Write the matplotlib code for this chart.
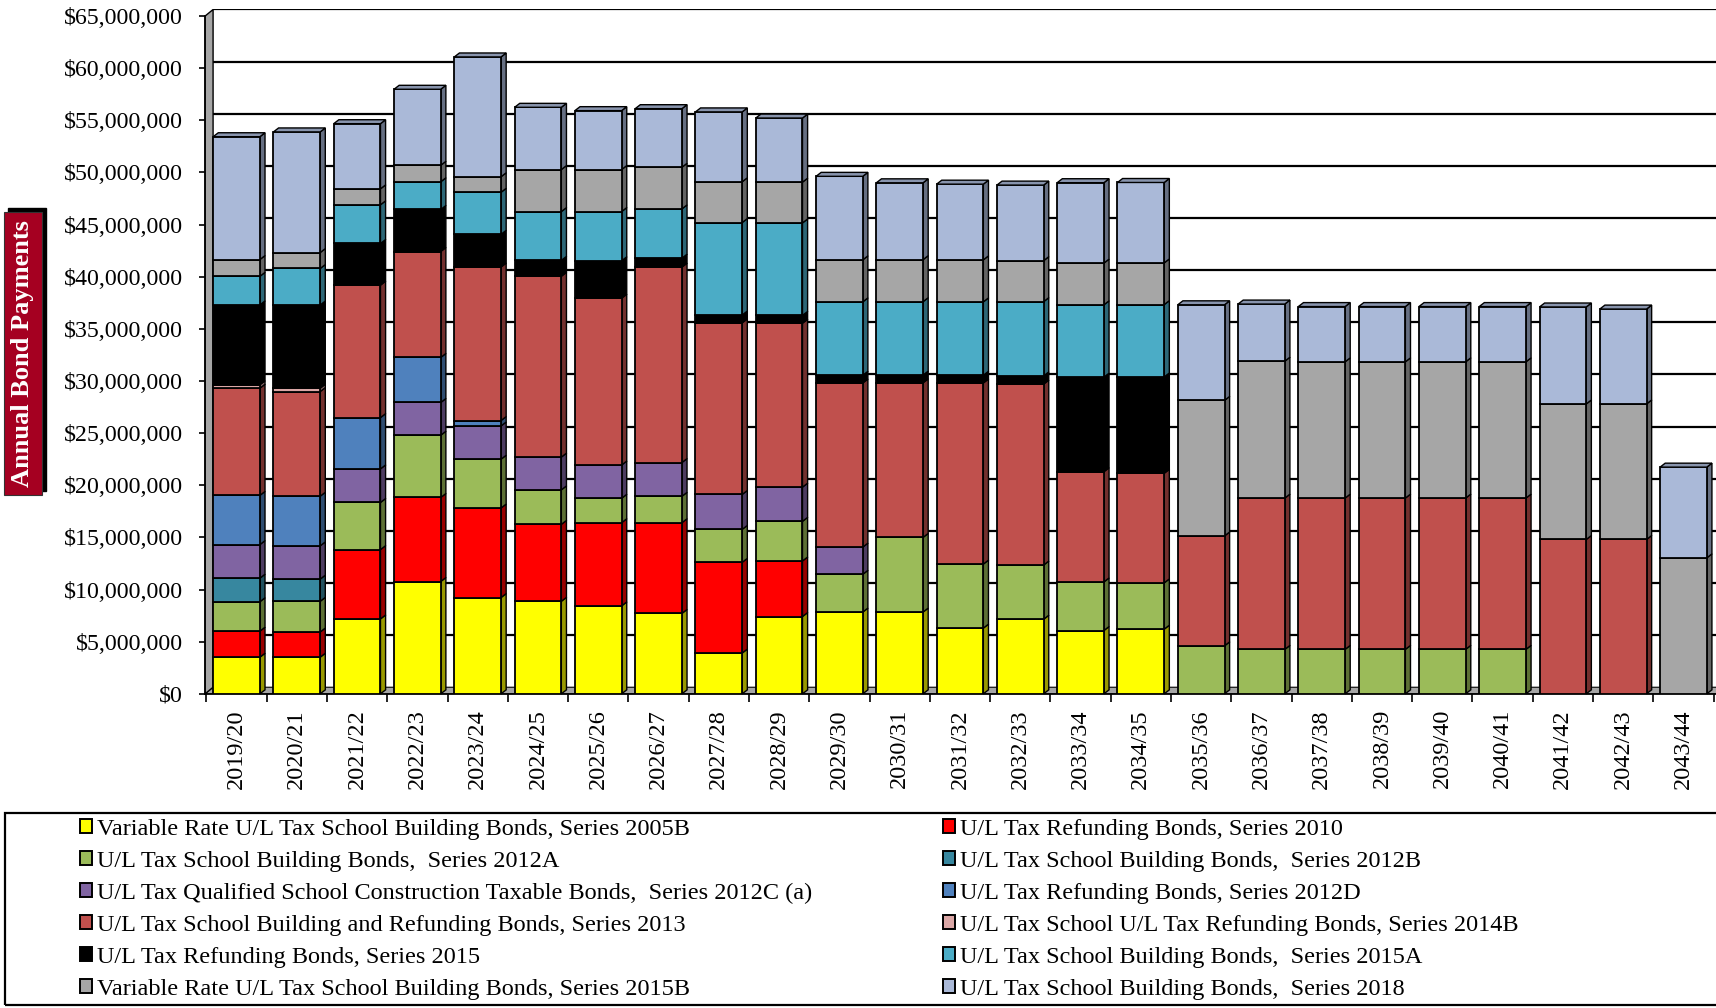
import matplotlib
matplotlib.use("Agg")
import matplotlib.pyplot as plt
import numpy as np
from matplotlib.patches import Polygon, Rectangle, Patch
from matplotlib.ticker import FuncFormatter, FixedLocator

plt.rcParams['font.family'] = ['Liberation Serif', 'DejaVu Serif']

# --- Data (values in $ millions) ---
years = ['2019/20', '2020/21', '2021/22', '2022/23', '2023/24', '2024/25', '2025/26',
         '2026/27', '2027/28', '2028/29', '2029/30', '2030/31', '2031/32', '2032/33',
         '2033/34', '2034/35', '2035/36', '2036/37', '2037/38', '2038/39', '2039/40',
         '2040/41', '2041/42', '2042/43', '2043/44']

s2005B = [3.51, 3.51, 7.18, 10.77, 9.23, 8.87, 8.43, 7.71, 3.91, 7.41, 7.84, 7.84, 6.3,
          7.15, 6.07, 6.2, 0, 0, 0, 0, 0, 0, 0, 0, 0]
s2010 = [2.5, 2.42, 6.65, 8.06, 8.59, 7.38, 7.98, 8.7, 8.7, 5.33, 0, 0, 0, 0, 0, 0,
         0, 0, 0, 0, 0, 0, 0, 0, 0]
s2012A = [2.82, 2.94, 4.52, 5.97, 4.68, 3.31, 2.34, 2.53, 3.16, 3.8, 3.62, 7.16, 6.14,
          5.2, 4.66, 4.44, 4.6, 4.26, 4.26, 4.26, 4.26, 4.26, 0, 0, 0]
s2012B = [2.26, 2.13, 0, 0, 0, 0, 0, 0, 0, 0, 0, 0, 0, 0, 0, 0, 0, 0, 0, 0, 0, 0, 0, 0, 0]
s2012C = [3.22, 3.19, 3.22, 3.14, 3.19, 3.14, 3.19, 3.24, 3.35, 3.28, 2.61, 0, 0, 0, 0,
          0, 0, 0, 0, 0, 0, 0, 0, 0, 0]
s2012D = [4.72, 4.76, 4.92, 4.32, 0.52, 0, 0, 0, 0, 0, 0, 0, 0, 0, 0, 0, 0, 0, 0, 0, 0,
          0, 0, 0, 0]
s2013 = [10.28, 10.04, 12.7, 10.16, 14.72, 17.34, 16.0, 18.74, 16.46, 15.72, 15.74, 14.83,
         17.37, 17.35, 10.57, 10.51, 10.54, 14.51, 14.51, 14.51, 14.51, 14.51, 14.8, 14.8, 0]
s2014B = [0.33, 0.32, 0, 0, 0, 0, 0, 0, 0, 0, 0, 0, 0, 0, 0, 0, 0, 0, 0, 0, 0, 0, 0, 0, 0]
s2015 = [7.66, 7.98, 4.0, 4.03, 3.14, 1.53, 3.59, 0.86, 0.75, 0.75, 0.74, 0.74, 0.74,
         0.79, 9.07, 9.24, 0, 0, 0, 0, 0, 0, 0, 0, 0]
s2015A = [2.74, 3.5, 3.71, 2.66, 4.03, 4.68, 4.72, 4.73, 8.87, 8.87, 7.04, 7.04, 7.04,
          7.12, 6.94, 6.94, 0, 0, 0, 0, 0, 0, 0, 0, 0]
s2015B = [1.61, 1.53, 1.53, 1.58, 1.49, 4.03, 4.03, 3.99, 3.91, 3.91, 4.03, 4.03, 4.03,
          3.93, 4.0, 4.0, 13.0, 13.13, 13.07, 13.07, 13.07, 13.07, 13.0, 13.0, 13.04]
s2018 = [11.78, 11.57, 6.25, 7.29, 11.49, 5.97, 5.65, 5.62, 6.7, 6.15, 8.01, 7.37, 7.26,
         7.25, 7.71, 7.71, 9.17, 5.48, 5.3, 5.3, 5.3, 5.3, 9.3, 9.1, 8.7]

labels = ['Variable Rate U/L Tax School Building Bonds, Series 2005B',
          'U/L Tax Refunding Bonds, Series 2010',
          'U/L Tax School Building Bonds,  Series 2012A',
          'U/L Tax School Building Bonds,  Series 2012B',
          'U/L Tax Qualified School Construction Taxable Bonds,  Series 2012C (a)',
          'U/L Tax Refunding Bonds, Series 2012D',
          'U/L Tax School Building and Refunding Bonds, Series 2013',
          'U/L Tax School U/L Tax Refunding Bonds, Series 2014B',
          'U/L Tax Refunding Bonds, Series 2015',
          'U/L Tax School Building Bonds,  Series 2015A',
          'Variable Rate U/L Tax School Building Bonds, Series 2015B',
          'U/L Tax School Building Bonds,  Series 2018']
series = [s2005B, s2010, s2012A, s2012B, s2012C, s2012D, s2013, s2014B, s2015,
          s2015A, s2015B, s2018]
colors = ['#FFFF00', '#FF0000', '#9BBB59', '#37879F', '#8064A2', '#4F81BD',
          '#C0504D', '#DBA7A6', '#000000', '#4BACC6', '#A6A6A6', '#AAB9D8']


def shade(c, f):
    r, g, b = matplotlib.colors.to_rgb(c)
    return (r * f, g * f, b * f)


fig = plt.figure(figsize=(17.16, 10.08), dpi=100)
ax = fig.add_axes([0.1195, 0.3117, 0.8805, 0.6796])

x = np.arange(len(years))
xl, xr_lim = -0.522, 24.54
bw = 0.775
dx, dy = 0.085, 0.38e6      # bar depth
dxb, dyb = 0.133, 0.63e6    # wall depth

# --- side wall, floor, back gridlines ---
ax.add_patch(Polygon([(xl, 0), (xl + dxb, dyb), (xl + dxb, 65e6 + dyb), (xl, 65e6)],
                     closed=True, fc='#A6A6A6', ec='black', lw=1.0, zorder=1.5, clip_on=False))
ax.add_patch(Polygon([(xl, 0), (xr_lim, 0), (xr_lim + dxb, dyb), (xl + dxb, dyb)],
                     closed=True, fc='#A6A6A6', ec='black', lw=0.8, zorder=1.4, clip_on=False))
grid_vals = np.arange(5e6, 65e6 + 1, 5e6)
ax.hlines(grid_vals + dyb, xl + dxb, xr_lim, color='black', lw=1.6, zorder=1)

# --- stacked 3D-style bars ---
bottom = np.zeros(len(years))
top_color = [None] * len(years)
for vals, col in zip(series, colors):
    v = np.array(vals) * 1e6
    m = v > 0
    ax.bar(x[m], v[m], bw, bottom=bottom[m], color=col, edgecolor='black', lw=1.3, zorder=3)
    for i in np.where(m)[0]:
        xr = x[i] + bw / 2
        b, t = bottom[i], bottom[i] + v[i]
        ax.add_patch(Polygon([(xr, b), (xr + dx, b + dy), (xr + dx, t + dy), (xr, t)],
                             closed=True, fc=shade(col, 0.6), ec='black', lw=1.0,
                             zorder=2.9, clip_on=False))
        top_color[i] = col
    bottom += v

for i in range(len(years)):
    xa, xb = x[i] - bw / 2, x[i] + bw / 2
    t = bottom[i]
    ax.add_patch(Polygon([(xa, t), (xa + dx, t + dy), (xb + dx, t + dy), (xb, t)],
                         closed=True, fc=shade(top_color[i], 0.8), ec='black', lw=1.0,
                         zorder=3.1, clip_on=False))

# --- axes ---
ax.set_xlim(xl, xr_lim)
ax.set_ylim(0, 65.7e6)
for s in ['top', 'right']:
    ax.spines[s].set_visible(False)
ax.spines['left'].set_bounds(0, 65e6)
ax.spines['left'].set_linewidth(1.2)
ax.spines['bottom'].set_linewidth(1.2)
ax.spines['left'].set_zorder(1.6)

ax.set_yticks(np.arange(0, 65e6 + 1, 5e6))
ax.yaxis.set_major_formatter(FuncFormatter(lambda v, p: f"${v:,.0f}"))
ax.tick_params(axis='y', labelsize=17.2, length=4, width=1.2, pad=12, direction='out')

ax.set_xticks(x)
ax.set_xticklabels(years, rotation=90, fontsize=17.5)
ax.xaxis.set_minor_locator(FixedLocator(np.arange(-0.5, 24.6, 1.0)))
ax.tick_params(axis='x', which='major', length=0, pad=11)
ax.tick_params(axis='x', which='minor', length=6, width=1.2, direction='out')

# --- y label box with drop shadow ---
ylab = fig.text(0.0134, 0.649, 'Annual Bond Payments', color='white', rotation=90,
                fontsize=19, fontweight='bold', ha='center', va='center', zorder=5,
                bbox=dict(boxstyle='square,pad=0.3', fc='#A50021', ec='#333333', lw=0.8))
fig.canvas.draw()
bb = ylab.get_bbox_patch().get_window_extent().transformed(fig.transFigure.inverted())
fig.patches.append(Rectangle((bb.x0 + 4 / 1716, bb.y0 + 4 / 1008), bb.width, bb.height,
                             transform=fig.transFigure, fc='black', ec='black', zorder=1))

# --- legend ---
fig.patches.append(Rectangle((0.0032, 0.0034), 1.2, 0.1896, transform=fig.transFigure,
                             fill=False, ec='black', lw=1.6))
handles = [Patch(fc=c, ec='black', lw=1.4) for c in colors]
leg_kw = dict(frameon=False, fontsize=17.5, handlelength=0.5, handleheight=0.5,
              handletextpad=0.2, labelspacing=0.45, borderpad=0, borderaxespad=0,
              loc='upper left')
fig.legend(handles[0::2], labels[0::2], bbox_to_anchor=(0.0466, 0.1875), **leg_kw)
fig.legend(handles[1::2], labels[1::2], bbox_to_anchor=(0.5496, 0.1875), **leg_kw)

fig.savefig('out.png', dpi=100)
